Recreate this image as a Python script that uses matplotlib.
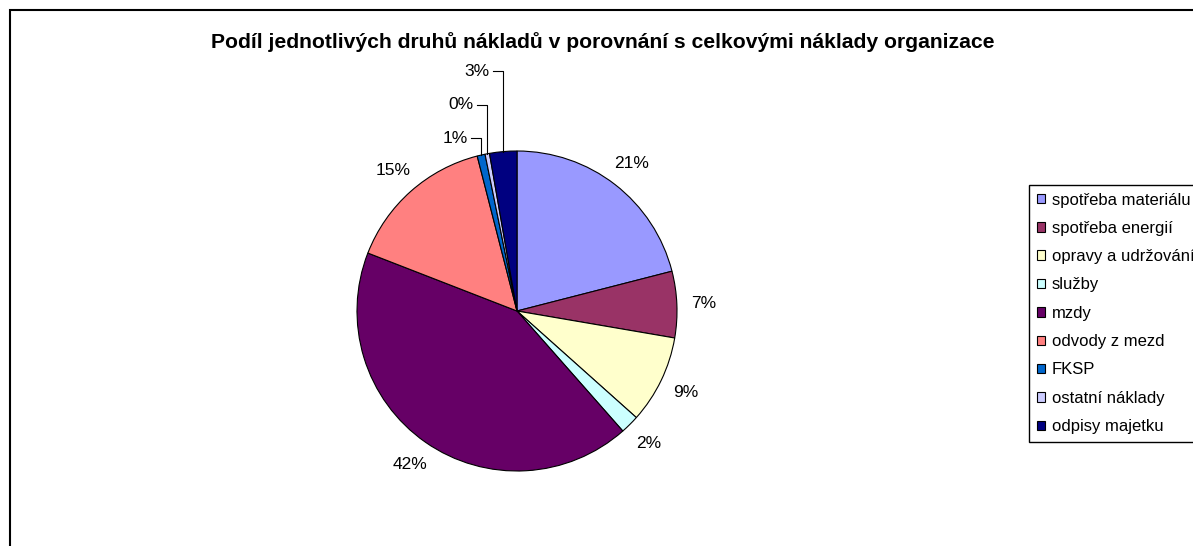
import numpy as np
import matplotlib.pyplot as plt
from matplotlib.patches import Patch, Rectangle

plt.rcParams['font.family'] = ['Liberation Sans', 'DejaVu Sans']

title = "Podíl jednotlivých druhů nákladů v porovnání s celkovými náklady organizace"
categories = ["spotřeba materiálu", "spotřeba energií", "opravy a udržování", "služby",
              "mzdy", "odvody z mezd", "FKSP", "ostatní náklady", "odpisy majetku"]
shares = [21.0, 6.7, 8.9, 1.9, 42.4, 15.1, 0.8, 0.45, 2.75]
colors = ["#9999FF", "#993366", "#FFFFCC", "#CCFFFF", "#660066",
          "#FF8080", "#0066CC", "#CCCCFF", "#000080"]

W, H = 1193, 546
R = 160          # pie radius in pixels
cx, cy = 517, 311  # pie centre in pixels (from top-left)

fig = plt.figure(figsize=(W / 100, H / 100), dpi=100)
ax = fig.add_axes([0, 0, 1, 1])
wedges, _ = ax.pie(shares, colors=colors, startangle=90, counterclock=False,
                   radius=1, wedgeprops=dict(edgecolor='black', linewidth=0.8))
ax.set_xlim(-cx / R, (W - cx) / R)
ax.set_ylim((cy - H) / R, cy / R)
ax.set_aspect('auto')
ax.axis('off')

# percentage labels; the thin slices at the top get leader lines
total = sum(shares)
k = 0
for w, v in zip(wedges, shares):
    txt = "%.0f%%" % (v / total * 100)
    mid = ((w.theta1 + w.theta2) / 2) % 360
    ang = np.deg2rad(mid)
    x, y = np.cos(ang), np.sin(ang)
    if 90 < mid < 110:
        ty = 1.08 + 0.21 * k
        k += 1
        ax.text(x - 0.083, ty, txt, ha='right', va='center', fontsize=12.5)
        ax.plot([x - 0.063, x, x], [ty, ty, y], color='black', lw=0.8)
    else:
        ax.text(1.17 * x, 1.17 * y, txt, ha='center', va='center', fontsize=12.5)

fig.text(603 / W, 1 - 42 / H, title, ha='center', va='center',
         fontsize=15.2, fontweight='bold')

handles = [Patch(facecolor=c, edgecolor='black', linewidth=0.8) for c in colors]
fig.legend(handles, categories, loc='upper left',
           bbox_to_anchor=(1029 / W, 1 - 185 / H), borderaxespad=0,
           fontsize=12, handlelength=0.5, handleheight=0.5, handletextpad=0.4,
           borderpad=0.45, labelspacing=0.8, fancybox=False,
           edgecolor='black', framealpha=1)

# chart area border (runs off the right and bottom of the picture)
fig.add_artist(Rectangle((10 / W, -0.1), 2, 1.1 - 10.5 / H,
                         transform=fig.transFigure, fill=False,
                         edgecolor='black', linewidth=1.5))

fig.savefig('out.png', dpi=100)
